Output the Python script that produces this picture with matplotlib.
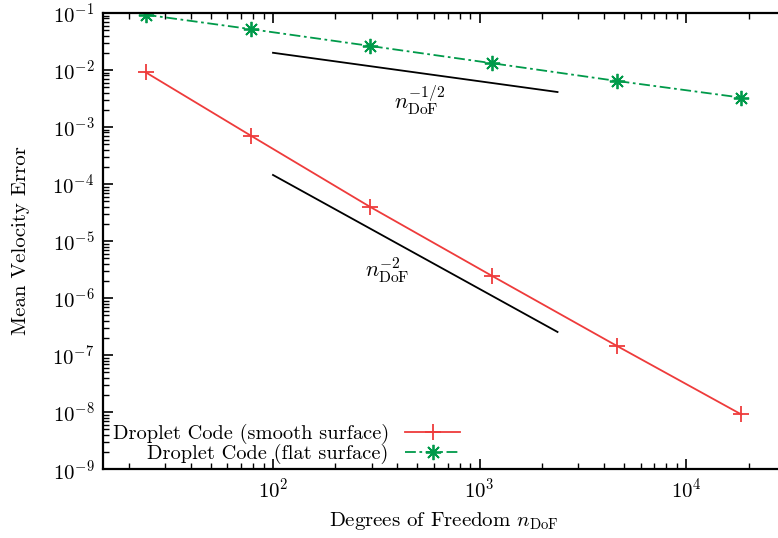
import matplotlib
matplotlib.use('Agg')
import matplotlib.pyplot as plt

plt.rcParams['mathtext.fontset'] = 'cm'
plt.rcParams['font.family'] = 'cmr10'
plt.rcParams['axes.formatter.use_mathtext'] = True
plt.rcParams['axes.unicode_minus'] = True

# values
ndof = [24.2, 78.6, 294, 1151, 4624, 18450]
err_smooth = [9.1e-3, 6.95e-4, 4.0e-5, 2.43e-6, 1.44e-7, 9.1e-9]
err_flat = [0.093, 0.0518, 0.0264, 0.0131, 0.0064, 0.00327]

ref_x = [100, 2380]
ref_half_c = 0.2
ref_two_c = 1.44

red = '#ee3b3b'
green = '#009a4a'

fig = plt.figure(figsize=(7.78, 5.38), dpi=100)
ax = fig.add_axes([0.132, 0.128, 0.877, 0.848])

ax.plot(ndof, err_smooth, color=red, lw=1.3, marker='+', ms=11, mew=1.3,
        label='Droplet Code (smooth surface)')
ax.plot(ndof, err_flat, color=green, lw=1.3, ls=(0, (6, 2, 1.5, 2)),
        marker=(8, 2, 0), ms=11, mew=1.3,
        label='Droplet Code (flat surface)')

ax.plot(ref_x, [ref_half_c * x ** -0.5 for x in ref_x], color='black', lw=1.3)
ax.plot(ref_x, [ref_two_c * x ** -2 for x in ref_x], color='black', lw=1.3)
ax.text(513, 3.0e-3, r'$n_{\mathrm{DoF}}^{-1/2}$', fontsize=16, ha='center', va='center')
ax.text(359, 3.1e-6, r'$n_{\mathrm{DoF}}^{-2}$', fontsize=16, ha='center', va='center')

ax.set_xscale('log')
ax.set_yscale('log')
ax.set_xlim(15, 30000)
ax.set_ylim(1e-9, 1e-1)
ax.set_yticks([10.0 ** k for k in range(-9, 0)])

ax.tick_params(which='both', direction='in', top=True, right=False, labelsize=15)
ax.tick_params(which='major', length=7, width=1.2, pad=6)
ax.tick_params(which='minor', length=4, width=1.0)
for s in ax.spines.values():
    s.set_linewidth(1.6)

ax.set_xlabel(r'Degrees of Freedom $n_{\mathrm{DoF}}$', fontsize=15, labelpad=6)
ax.set_ylabel('Mean Velocity Error', fontsize=15, labelpad=16)

ax.legend(loc='lower left', bbox_to_anchor=(0.0085, 0.0015), frameon=False,
          markerfirst=False, fontsize=14.7, handlelength=2.7, labelspacing=0.0,
          borderaxespad=0, handletextpad=0.8, borderpad=0.2)

fig.savefig('out.png', dpi=100)
